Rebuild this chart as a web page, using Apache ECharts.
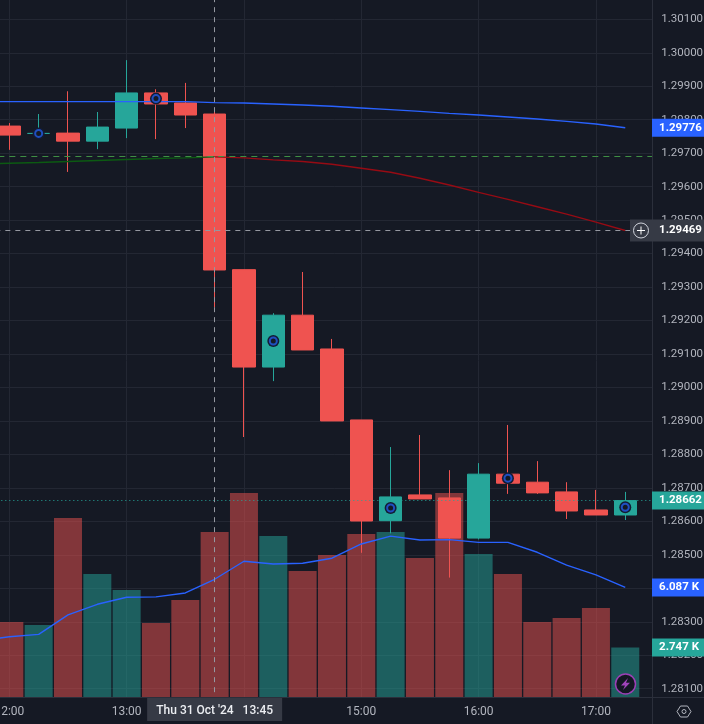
<!DOCTYPE html>
<html>
<head>
	<meta charset="UTF-8" />
	<title>GBPUSD 15m</title>
	<script src="https://cdn.jsdelivr.net/npm/echarts@6/dist/echarts.min.js"></script>
	<style>
		html, body { margin: 0; padding: 0; background: #151924; }
		#chart { width: 704px; height: 724px; }
	</style>
</head>
<body>
	<div id="chart"></div>
	<script>
		// one 15 minute slot per candle. 11:45 sits just off the left edge, 17:30 is the empty space before the price scale
		const times = ['11:45','12:00','12:15','12:30','12:45','13:00','13:15','13:30','13:45','14:00','14:15','14:30','14:45',
			'15:00','15:15','15:30','15:45','16:00','16:15','16:30','16:45','17:00','17:15','17:30'];

		// open, close, low, high
		const candles = [
			['-','-','-','-'],
			[1.29781,1.29754,1.29710,1.29790],
			[1.29759,1.29759,1.29759,1.29817],
			[1.29760,1.29736,1.29644,1.29885],
			[1.29736,1.29778,1.29712,1.29823],
			[1.29775,1.29880,1.29745,1.29978],
			[1.29880,1.29847,1.29742,1.29891],
			[1.29850,1.29814,1.29775,1.29910],
			[1.29817,1.29351,1.29240,1.29829],
			[1.29352,1.29061,1.28852,1.29352],
			[1.29061,1.29216,1.29019,1.29222],
			[1.29216,1.29112,1.29112,1.29345],
			[1.29115,1.28900,1.28900,1.29145],
			[1.28903,1.28601,1.28506,1.28903],
			[1.28602,1.28673,1.28564,1.28822],
			[1.28679,1.28667,1.28667,1.28858],
			[1.28670,1.28550,1.28432,1.28753],
			[1.28550,1.28741,1.28546,1.28774],
			[1.28741,1.28714,1.28682,1.28888],
			[1.28717,1.28685,1.28682,1.28780],
			[1.28688,1.28631,1.28607,1.28717],
			[1.28634,1.28619,1.28619,1.28694],
			[1.28619,1.28662,1.28604,1.28688]
		];

		const volumes = [null,4.17,4.00,9.94,6.83,5.94,4.11,5.39,9.17,11.33,8.94,7.00,7.89,9.06,9.17,7.72,11.33,7.94,6.83,4.17,4.39,4.94,2.747];
		const volumeAvg = [3.11,3.35,3.48,4.56,5.15,5.54,5.56,5.78,6.54,7.54,7.39,7.43,7.71,8.50,8.94,8.72,8.74,8.59,8.59,8.04,7.33,6.78,6.087];

		const blueMa = [1.29854,1.29854,1.29854,1.29854,1.29854,1.29854,1.29854,1.29854,1.29851,1.29850,1.29847,1.29844,1.29840,
			1.29835,1.29830,1.29825,1.29819,1.29814,1.29808,1.29802,1.29795,1.29787,1.29776];
		const greenMa = [1.29668,1.29670,1.29672,1.29675,1.29678,1.29681,1.29684,1.29686,1.29689];
		const redMa = [null,null,null,null,null,null,null,null,1.29689,1.29686,1.29680,1.29675,1.29667,1.29655,1.29643,1.29625,
			1.29605,1.29583,1.29562,1.29540,1.29518,1.29494,1.29469];
		const markers = [[2,1.29759],[6,1.29863],[10,1.29139],[14,1.28640],[18,1.28729],[22,1.28642]];

		const lastPrice = 1.28662;
		const crossPrice = 1.29469;
		const crossIndex = 8;
		const greenLevel = 1.29692;

		const BG = '#151924', GRID = '#232733', SEP = '#2b2f3b', TAG = '#363a45', TXT = '#b2b5be';
		const UP = '#26a69a', DOWN = '#ef5350';
		const FONT = 'Roboto, sans-serif';

		const chart = echarts.init(document.getElementById('chart'));

		function hourly(i) { return i % 4 === 1; }

		chart.setOption({
			animation: false,
			backgroundColor: BG,
			grid: [
				// price grid runs past the picture so the ticks count from 1.28000
				{ left: -34.66, top: -14.17, width: 703.92, height: 736.34, containLabel: false, outerBoundsMode: 'none' },
				{ left: -34.66, top: 0, width: 703.92, height: 697, containLabel: false, outerBoundsMode: 'none' }
			],
			xAxis: [
				{
					type: 'category', gridIndex: 0, data: times,
					axisLine: { show: false }, axisTick: { show: false }, axisLabel: { show: false },
					splitLine: { show: true, alignWithLabel: true, interval: (i) => hourly(i), lineStyle: { color: GRID, width: 1 } }
				},
				{
					type: 'category', gridIndex: 1, data: times, z: 20,
					axisLine: { show: false }, axisTick: { show: false }, splitLine: { show: false },
					axisLabel: { interval: (i) => hourly(i), color: TXT, fontFamily: FONT, fontSize: 12, margin: 9, hideOverlap: false }
				}
			],
			yAxis: [
				{
					type: 'value', gridIndex: 0, min: 1.28, max: 1.302, interval: 0.001,
					axisLine: { show: false }, axisTick: { show: false }, axisLabel: { show: false },
					splitLine: { lineStyle: { color: GRID, width: 1 } }
				},
				{
					type: 'value', gridIndex: 0, position: 'right', offset: -17, z: 20,
					min: 1.28, max: 1.302, interval: 0.001,
					axisLine: { show: false }, axisTick: { show: false }, splitLine: { show: false },
					axisLabel: {
						color: TXT, fontFamily: FONT, fontSize: 11.5, margin: 9, align: 'left',
						formatter: (v) => (v < 1.2805 || v > 1.3015) ? '' : v.toFixed(5)
					}
				},
				{ type: 'value', gridIndex: 1, show: false, min: 0, max: 38.72, splitLine: { show: false } }
			],
			series: [
				{
					name: 'volume', type: 'bar', xAxisIndex: 1, yAxisIndex: 2, z: 1, barWidth: 28,
					data: volumes.map((v, i) => ({
						value: v,
						itemStyle: { color: candles[i][1] >= candles[i][0] ? 'rgba(38,166,154,0.5)' : 'rgba(239,83,80,0.5)' }
					}))
				},
				{
					name: 'volume avg', type: 'line', xAxisIndex: 1, yAxisIndex: 2, z: 3, data: volumeAvg,
					symbol: 'none', lineStyle: { color: '#2962ff', width: 1.4 }
				},
				{
					name: 'price', type: 'candlestick', xAxisIndex: 0, yAxisIndex: 0, z: 2, barWidth: 23, data: candles,
					itemStyle: { color: UP, color0: DOWN, borderColor: UP, borderColor0: DOWN, borderColorDoji: UP, borderWidth: 1 },
					markLine: {
						silent: true, symbol: 'none', label: { show: false }, animation: false, precision: 5,
						data: [
							{ yAxis: greenLevel, lineStyle: { color: '#3f8f44', type: [6, 5], width: 1 } },
							{ yAxis: lastPrice, lineStyle: { color: UP, type: [1, 3], width: 1 } },
							{ yAxis: crossPrice, lineStyle: { color: '#9598a1', type: [5, 5], width: 1 } },
							{ xAxis: crossIndex, lineStyle: { color: '#9598a1', type: [5, 5], width: 1 } }
						]
					}
				},
				{
					name: 'ma blue', type: 'line', xAxisIndex: 0, yAxisIndex: 0, z: 3, data: blueMa,
					symbol: 'none', lineStyle: { color: '#2962ff', width: 1.4 }
				},
				{
					name: 'ma green', type: 'line', xAxisIndex: 0, yAxisIndex: 0, z: 3, data: greenMa,
					symbol: 'none', lineStyle: { color: '#0c5a12', width: 1.4 }
				},
				{
					name: 'ma red', type: 'line', xAxisIndex: 0, yAxisIndex: 0, z: 3, data: redMa,
					symbol: 'none', lineStyle: { color: '#960b14', width: 1.4 }
				},
				{
					name: 'marker back', type: 'scatter', xAxisIndex: 0, yAxisIndex: 0, z: 4, data: markers,
					symbol: 'circle', symbolSize: 12, itemStyle: { color: '#131b33', opacity: 1 }
				},
				{
					name: 'marker ring', type: 'scatter', xAxisIndex: 0, yAxisIndex: 0, z: 5, data: markers,
					symbol: 'circle', symbolSize: 7, itemStyle: { color: '#151924', borderColor: '#1f4fc0', borderWidth: 2, opacity: 1 }
				}
			]
		});

		// the price scale tags follow the axes
		function priceY(p) { return chart.convertToPixel({ xAxisIndex: 0, yAxisIndex: 0 }, [0, p])[1]; }
		function volY(v) { return chart.convertToPixel({ xAxisIndex: 1, yAxisIndex: 2 }, [0, v])[1]; }
		const crossX = chart.convertToPixel({ xAxisIndex: 0, yAxisIndex: 0 }, [crossIndex, crossPrice])[0];

		function tag(y, text, color, h, tx) {
			return [
				{ type: 'rect', z: 30, shape: { x: 652, y: y - h / 2, width: 52, height: h }, style: { fill: color } },
				{ type: 'text', z: 31, style: { x: tx, y: y, text: text, fill: '#fff', font: 'bold 11.5px ' + FONT, align: 'center', verticalAlign: 'middle' } }
			];
		}

		const crossY = priceY(crossPrice);
		const line = { stroke: SEP, lineWidth: 1 };

		chart.setOption({
			graphic: [
				{ type: 'rect', z: 10, shape: { x: 652.5, y: 0, width: 52, height: 724 }, style: { fill: BG } },
				{ type: 'rect', z: 10, shape: { x: 0, y: 698, width: 704, height: 26 }, style: { fill: BG } },
				{ type: 'line', z: 11, shape: { x1: 652.5, y1: 0, x2: 652.5, y2: 724 }, style: line },
				{ type: 'line', z: 11, shape: { x1: 0, y1: 697.5, x2: 704, y2: 697.5 }, style: line },
				// crosshair end: plus button, date tag
				{ type: 'rect', z: 30, shape: { x: 630, y: crossY - 11, width: 22, height: 22 }, style: { fill: TAG } },
				{ type: 'circle', z: 31, shape: { cx: 641, cy: crossY, r: 7.5 }, style: { fill: 'none', stroke: '#d1d4dc', lineWidth: 1 } },
				{ type: 'line', z: 31, shape: { x1: 637, y1: crossY, x2: 645, y2: crossY }, style: { stroke: '#fff', lineWidth: 1 } },
				{ type: 'line', z: 31, shape: { x1: 641, y1: crossY - 4, x2: 641, y2: crossY + 4 }, style: { stroke: '#fff', lineWidth: 1 } },
				{ type: 'rect', z: 30, shape: { x: crossX - 67.5, y: 698, width: 135, height: 23 }, style: { fill: TAG } },
				{ type: 'text', z: 31, style: { x: crossX, y: 711, text: "Thu 31 Oct '24   13:45", fill: '#eceef2', font: '500 12px ' + FONT, align: 'center', verticalAlign: 'middle' } },
				...tag(priceY(blueMa[22]), '1.29776', '#2962ff', 18, 680.5),
				...tag(crossY, '1.29469', TAG, 22, 680.5),
				...tag(priceY(lastPrice), '1.28662', UP, 18, 680.5),
				...tag(volY(volumeAvg[22]), '6.087 K', '#2962ff', 18, 679),
				...tag(volY(volumes[22]), '2.747 K', UP, 18, 679),
				// lightning badge
				{ type: 'circle', z: 31, shape: { cx: 625.5, cy: 684, r: 10 }, style: { fill: '#131722', stroke: '#9c3fb5', lineWidth: 1.5 } },
				{ type: 'polygon', z: 32, shape: { points: [[628, 678], [621, 685.5], [625, 685.5], [623, 690], [630, 682.8], [626, 682.8]] }, style: { fill: '#a044bb' } },
				// settings hexagon
				{ type: 'polygon', z: 31, shape: { points: [[677, 711.5], [680.5, 706], [687.5, 706], [691, 711.5], [687.5, 717], [680.5, 717]] }, style: { fill: 'none', stroke: TXT, lineWidth: 1 } },
				{ type: 'circle', z: 31, shape: { cx: 684, cy: 711.5, r: 2 }, style: { fill: 'none', stroke: TXT, lineWidth: 1 } }
			]
		});
	</script>
</body>
</html>
